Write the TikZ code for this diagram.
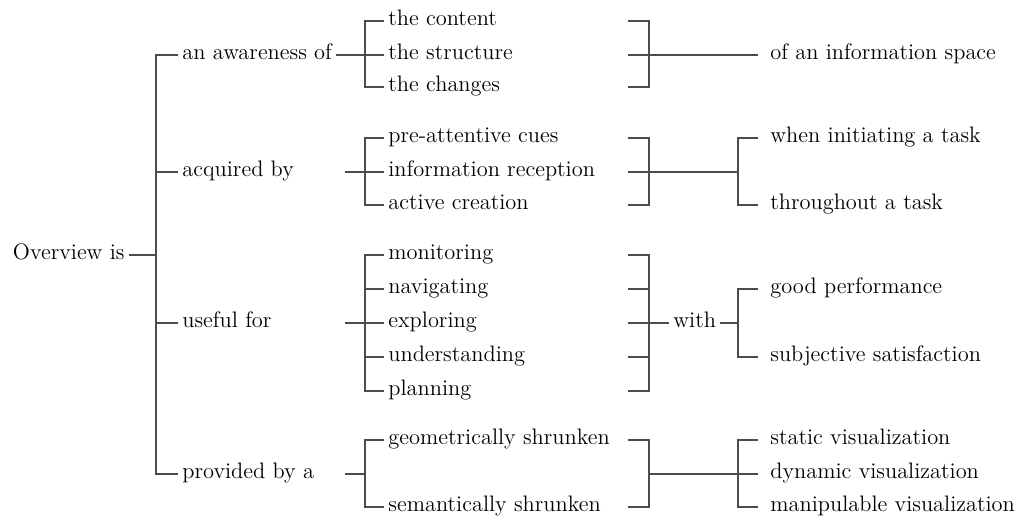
\documentclass[tikz,border=0pt]{standalone}
\usepackage{tikz}

\begin{document}
\begin{tikzpicture}[x=0.5pt,y=-0.5pt,font=\fontsize{11.2}{13}\selectfont]
    \tikzstyle{lbl}=[anchor=west,inner xsep=2pt,inner ysep=0pt,text height=1.6ex,text depth=0.6ex,text=black]
    \tikzstyle{far}=[lbl,inner xsep=6pt]
    \tikzstyle{link}=[line width=1pt,draw=black!70]
    \useasboundingbox (0,0) rectangle (1022,521);
    % root and first level
    \node (over)  at (129,255) [lbl,anchor=east] {Overview is};
    \node (aware) at (178,55)  [lbl] {an awareness of};
    \node (acq)   at (178,172) [lbl] {acquired by};
    \node (use)   at (178,323) [lbl] {useful for};
    \node (prov)  at (178,474) [lbl] {provided by a};
    % second level
    \node (cont)  at (384,21)  [lbl] {the content};
    \node (struc) at (384,55)  [lbl] {the structure};
    \node (chg)   at (384,87)  [lbl] {the changes};
    \node (pre)   at (384,138) [lbl] {pre-attentive cues};
    \node (info)  at (384,172) [lbl] {information reception};
    \node (act)   at (384,205) [lbl] {active creation};
    \node (mon)   at (384,255) [lbl] {monitoring};
    \node (nav)   at (384,289) [lbl] {navigating};
    \node (expl)  at (384,323) [lbl] {exploring};
    \node (und)   at (384,357) [lbl] {understanding};
    \node (plan)  at (384,391) [lbl] {planning};
    \node (geo)   at (384,440) [lbl] {geometrically shrunken};
    \node (sem)   at (384,507) [lbl] {semantically shrunken};
    % third level
    \node (with)  at (669,323) [lbl] {with};
    \node (space) at (758,55)  [far] {of an information space};
    \node (when)  at (758,138) [far] {when initiating a task};
    \node (thr)   at (758,205) [far] {throughout a task};
    \node (good)  at (758,289) [far] {good performance};
    \node (subj)  at (758,357) [far] {subjective satisfaction};
    \node (stat)  at (758,440) [far] {static visualization};
    \node (dyn)   at (758,474) [far] {dynamic visualization};
    \node (man)   at (758,507) [far] {manipulable visualization};
    % bracket spines
    \coordinate (trunk) at (156,255);
    \coordinate (la) at (365,55);  \coordinate (ra) at (649,55);
    \coordinate (lb) at (365,172); \coordinate (rb) at (649,172); \coordinate (sb) at (738,172);
    \coordinate (lc) at (365,323); \coordinate (rc) at (649,323); \coordinate (sc) at (738,323);
    \coordinate (ld) at (365,474); \coordinate (rd) at (649,474); \coordinate (sd) at (738,474);
    % trunk
    \draw [link] (over.east) -- (trunk);
    \draw [link] (aware.west) -| (trunk) |- (prov.west);
    \draw [link] (trunk |- acq) -- (acq.west);
    \draw [link] (trunk |- use) -- (use.west);
    % an awareness of
    \draw [link] (cont.west) -| (la) |- (chg.west);
    \draw [link] (aware.east) -- (la) -- (struc.west);
    \draw [link] (cont -| ra) ++(-21,0) -- (cont -| ra) -- (chg -| ra) -- ++(-21,0);
    \draw [link] (struc -| ra) ++(-21,0) -- (space.west);
    % acquired by
    \draw [link] (pre.west) -| (lb) |- (act.west);
    \draw [link] ([xshift=-10pt]lb) -- (info.west);
    \draw [link] (pre -| rb) ++(-21,0) -- (pre -| rb) -- (act -| rb) -- ++(-21,0);
    \draw [link] (info -| rb) ++(-21,0) -- (sb);
    \draw [link] (when.west) -| (sb) |- (thr.west);
    % useful for
    \draw [link] (mon.west) -| (lc) |- (plan.west);
    \draw [link] (lc |- nav) -- (nav.west);
    \draw [link] ([xshift=-10pt]lc) -- (expl.west);
    \draw [link] (lc |- und) -- (und.west);
    \draw [link] (mon -| rc) ++(-21,0) -- (mon -| rc) -- (plan -| rc) -- ++(-21,0);
    \draw [link] (nav -| rc) ++(-21,0) -- (nav -| rc);
    \draw [link] (und -| rc) ++(-21,0) -- (und -| rc);
    \draw [link] (expl -| rc) ++(-21,0) -- (with.west);
    \draw [link] (with.east) -- (sc);
    \draw [link] (good.west) -| (sc) |- (subj.west);
    % provided by a
    \draw [link] (geo.west) -| (ld) |- (sem.west);
    \draw [link] ([xshift=-10pt]ld) -- (ld);
    \draw [link] (geo -| rd) ++(-21,0) -- (geo -| rd) -- (sem -| rd) -- ++(-21,0);
    \draw [link] (rd) -- (dyn.west);
    \draw [link] (stat.west) -| (sd) |- (man.west);
\end{tikzpicture}
\end{document}
